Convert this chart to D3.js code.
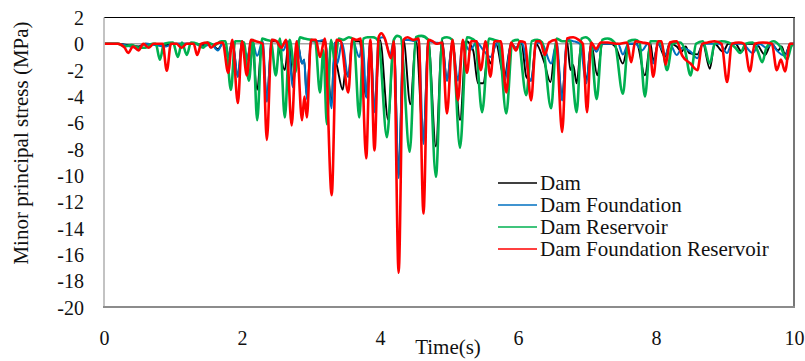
<!DOCTYPE html>
<html>
<head>
<meta charset="utf-8">
<script src="https://cdn.jsdelivr.net/npm/d3@7"></script>
<style>
  html, body { margin: 0; padding: 0; background: #fff; }
  svg { display: block; }
  text { font-family: "Liberation Serif", "Times New Roman", serif; fill: #111; }
</style>
</head>
<body>
<svg id="chart" width="805" height="361"></svg>
<script>
// Time axis and stress axis tick labels
const xTicks = [0, 2, 4, 6, 8, 10];
const yTicks = [2, 0, -2, -4, -6, -8, -10, -12, -14, -16, -18, -20];
const yTickLabels = ["2", "0", "-2", "-4", "-6", "-8", "-10", "-12", "-14", "-16", "-18", "-20"];

const seriesNames = ["Dam", "Dam Foundation", "Dam Reservoir", "Dam Foundation Reservoir"];
const seriesColors = ["#000000", "#0070C0", "#00B050", "#FF0000"];

// Minor principal stress histories, [time (s), stress (MPa)]
const dam = [
  [0,0],[0.2,0],[0.35,-0.1],[0.5,-0.2],[0.6,0],[0.9,-0.1],[1.0,0],[1.3,0],[1.45,-0.1],[1.55,0],
  [1.65,-0.4],[1.72,0],[1.8,-1.0],[1.86,0.2],[1.94,-2.5],[2.0,0.2],[2.07,-1.2],[2.14,0.2],
  [2.22,-3.5],[2.29,0.2],[2.36,-4.2],[2.43,0.2],[2.5,0.2],[2.62,-2.0],[2.68,0.2],[2.74,-3.2],
  [2.8,0.2],[2.87,-1.5],[2.9,-1.2],[2.94,-4.0],[3.0,0.2],[3.1,0.2],[3.2,0.2],[3.3,-4.5],
  [3.33,-1.2],[3.36,-1.4],[3.46,-3.5],[3.5,-2.0],[3.54,-2.5],[3.6,0.2],[3.7,0.2],[3.8,-4.0],
  [3.86,0.2],[3.92,-5.0],[4.0,0.3],[4.12,-5.8],[4.2,0.2],[4.27,-10.0],[4.34,0.3],[4.44,-4.6],
  [4.52,0.3],[4.63,-7.3],[4.7,0.2],[4.81,-7.8],[4.9,0.3],[4.97,-2.8],[5.05,0.1],[5.16,-5.8],
  [5.25,0.2],[5.35,-0.5],[5.42,-3.0],[5.5,-3.0],[5.56,-1.0],[5.6,-1.5],[5.68,0],[5.8,-2.6],
  [5.9,0],[5.97,-0.3],[6.05,0.1],[6.12,-2.5],[6.19,-2.8],[6.26,0],[6.38,-1.4],[6.47,-2.9],
  [6.55,0],[6.64,-4.0],[6.71,0.2],[6.76,-2.0],[6.8,-1.6],[6.85,-3.0],[6.92,0.1],[6.99,-2.8],
  [7.06,0],[7.15,-2.4],[7.22,0],[7.35,0],[7.42,-0.3],[7.52,-1.5],[7.6,0],[7.72,0],[7.84,-2.4],
  [7.92,0],[7.96,-1.3],[8.03,0],[8.13,-1.0],[8.2,0],[8.3,-0.2],[8.37,-0.6],[8.43,-0.2],
  [8.48,-0.7],[8.6,-0.8],[8.68,0],[8.78,-1.9],[8.85,0],[8.97,-0.6],[9.05,0],[9.15,0],
  [9.24,-0.6],[9.32,0],[9.45,0],[9.58,-0.85],[9.67,0],[9.77,-0.5],[9.82,-0.2],[9.87,-0.8],
  [9.95,0],[10,0]
];

const damFoundation = [
  [0,0],[0.2,0],[0.3,-0.1],[0.5,-0.3],[0.6,0],[0.9,-0.2],[1.0,0],[1.3,0],[1.45,-0.2],[1.55,0],
  [1.65,-0.5],[1.72,0],[1.8,-1.0],[1.86,0.2],[1.94,-2.5],[2.0,0.2],[2.07,-1.2],[2.14,0.3],
  [2.22,-0.9],[2.3,0.2],[2.36,-4.4],[2.43,0.3],[2.5,0.2],[2.6,-0.5],[2.66,0.2],[2.74,-3.3],
  [2.8,0.2],[2.87,-1.5],[2.9,-1.2],[2.94,-4.2],[3.0,0.2],[3.1,0.2],[3.2,0.3],[3.3,-4.9],
  [3.34,0.1],[3.38,-1.5],[3.45,0.1],[3.54,-2.5],[3.6,0.3],[3.7,-1.0],[3.75,0.2],[3.8,-4.1],
  [3.86,0.2],[3.92,-5.2],[3.98,0.4],[4.05,0.5],[4.15,-0.8],[4.2,0.2],[4.27,-10.2],[4.34,0.3],
  [4.42,0.3],[4.5,0.2],[4.56,0.3],[4.63,-7.6],[4.7,0.2],[4.8,0.1],[4.9,0],[4.97,-2.8],
  [5.05,0.1],[5.13,-2.8],[5.2,0.2],[5.3,-0.5],[5.4,0.1],[5.5,-0.5],[5.6,-1.0],[5.7,0.1],
  [5.81,-2.8],[5.9,0],[5.97,-0.3],[6.05,0.1],[6.19,-2.8],[6.27,0.1],[6.35,0],[6.48,-1.5],
  [6.56,0.1],[6.64,-4.3],[6.71,0.3],[6.8,0.2],[6.9,0],[6.99,-3.0],[7.06,0],[7.14,-0.6],
  [7.2,0],[7.35,0],[7.45,0],[7.52,-0.8],[7.6,0],[7.7,0],[7.8,-0.5],[7.88,0],[7.96,-1.5],
  [8.03,0],[8.14,-0.8],[8.2,0],[8.3,-0.85],[8.38,-0.3],[8.5,-0.6],[8.6,-1.1],[8.68,0],
  [8.8,0],[8.92,0],[9.03,-0.7],[9.1,0],[9.25,0],[9.4,-0.7],[9.5,0],[9.6,-0.3],[9.68,0],
  [9.75,-0.5],[9.87,-0.9],[9.95,0],[10,0]
];

const damReservoir = [
  [0,0],[0.2,0],[0.3,-0.2],[0.4,-0.1],[0.5,-0.3],[0.6,-0.3],[0.7,0],[0.75,0],[0.81,-1.2],
  [0.87,0],[1.0,0.1],[1.07,-1.0],[1.13,0.1],[1.2,-0.85],[1.26,0.1],[1.35,0],[1.44,-0.3],
  [1.5,0.1],[1.6,-0.1],[1.7,0.2],[1.76,0.2],[1.84,-3.5],[1.9,0.2],[1.97,0.2],[2.03,0.1],
  [2.1,-2.8],[2.16,0.3],[2.22,-5.8],[2.29,0.4],[2.35,0.3],[2.42,0.2],[2.49,-2.4],[2.55,0.4],
  [2.62,-5.6],[2.69,0.3],[2.77,-2.2],[2.84,0.5],[2.9,0.4],[3.0,0.3],[3.06,0.2],[3.13,-3.7],
  [3.18,-0.5],[3.23,-6.1],[3.29,0.3],[3.35,-1.4],[3.4,0.4],[3.47,0.3],[3.55,0.5],[3.62,0.3],
  [3.7,-5.6],[3.76,0.4],[3.82,0.5],[3.9,0.5],[3.98,0.2],[4.1,-7.1],[4.2,0.3],[4.25,0.6],
  [4.3,0.5],[4.43,-8.2],[4.52,0.5],[4.6,0.6],[4.7,0.3],[4.81,-10.1],[4.9,0.4],[4.97,0.5],
  [5.05,0.3],[5.16,-7.9],[5.26,0.5],[5.33,0.4],[5.38,0.2],[5.48,-5.2],[5.58,0.4],[5.65,0.3],
  [5.72,0.2],[5.83,-5.3],[5.92,0.2],[6.0,0.3],[6.12,-3.9],[6.2,0.2],[6.28,0.3],[6.35,0.1],
  [6.48,-4.9],[6.56,0.4],[6.64,0.2],[6.76,0.2],[6.8,-3.0],[6.85,-5.2],[6.92,0.4],[6.98,0.5],
  [7.05,0.2],[7.14,-4.2],[7.22,0.3],[7.3,0.4],[7.4,0.1],[7.52,-3.8],[7.6,0.2],[7.7,0.3],
  [7.76,0.1],[7.84,-4.0],[7.92,0.2],[8.0,0.2],[8.08,0],[8.16,-2.0],[8.24,0],[8.35,0.1],
  [8.42,-0.5],[8.5,-2.4],[8.58,0],[8.68,0.2],[8.78,-1.5],[8.85,0],[8.95,0.2],[9.05,0.1],
  [9.15,-0.3],[9.22,-0.7],[9.3,0],[9.4,0.1],[9.47,-0.5],[9.54,-1.4],[9.6,-0.3],[9.7,0.2],
  [9.8,-0.2],[9.9,-1.2],[9.96,-0.2],[10,0]
];

const damFoundationReservoir = [
  [0,0],[0.2,0],[0.3,-0.3],[0.35,-0.7],[0.42,-0.2],[0.5,-0.5],[0.57,0],[0.65,-0.3],[0.72,0],
  [0.85,0],[0.91,-2.05],[0.97,0],[1.05,0],[1.12,-0.3],[1.2,0],[1.3,0],[1.35,-0.85],[1.41,0],
  [1.5,0.1],[1.55,-0.3],[1.62,0],[1.72,0.1],[1.8,-2.2],[1.86,0.3],[1.94,-4.5],[2.0,0.2],
  [2.07,-2.4],[2.13,0.3],[2.2,0.2],[2.3,0],[2.36,-7.3],[2.43,0.3],[2.5,0.2],[2.57,-0.3],
  [2.64,0.3],[2.72,-6.2],[2.79,0.2],[2.87,-5.8],[2.905,-4.0],[2.94,-5.6],[3.0,0.3],[3.07,0.3],
  [3.13,-1.0],[3.2,0.4],[3.3,-11.5],[3.37,0.3],[3.43,0.2],[3.54,-3.7],[3.6,0.4],[3.66,0.3],
  [3.72,0.4],[3.8,-8.7],[3.86,0.3],[3.92,-8.1],[3.98,0.5],[4.02,0.8],[4.07,0.4],[4.16,-1.1],
  [4.2,0.2],[4.27,-17.4],[4.34,0.3],[4.4,0.5],[4.48,0.3],[4.56,0.4],[4.63,-12.9],[4.7,0.3],
  [4.76,0.2],[4.82,0],[4.9,0.1],[4.97,-5.3],[5.05,0.3],[5.13,-4.3],[5.2,0.3],[5.26,-2.2],
  [5.32,0.2],[5.4,0.2],[5.46,-2.0],[5.53,0.2],[5.6,-2.5],[5.66,0.2],[5.75,0.2],[5.83,-3.7],
  [5.9,0.1],[5.97,-0.5],[6.03,0.2],[6.1,0.1],[6.19,-4.3],[6.26,0.2],[6.32,0.2],[6.39,-0.85],
  [6.45,0.1],[6.55,0.3],[6.64,-6.7],[6.71,0.4],[6.8,0.5],[6.88,0.3],[6.94,0],[7.0,-5.2],
  [7.06,0.1],[7.13,-0.4],[7.2,0.1],[7.3,0.1],[7.45,0],[7.58,0.1],[7.64,-1.4],[7.7,0.2],
  [7.8,0.1],[7.9,0],[7.96,-2.5],[8.03,0.2],[8.08,0.2],[8.14,-1.6],[8.2,0.1],[8.3,0.2],
  [8.38,-0.9],[8.5,-1.5],[8.6,-2.0],[8.67,0],[8.75,0.1],[8.85,0.2],[8.95,0],[9.03,-2.9],
  [9.1,0],[9.2,0.1],[9.28,0],[9.36,-2.1],[9.43,0],[9.55,0.1],[9.68,0],[9.75,-2.0],
  [9.81,-1.2],[9.87,-2.1],[9.94,0],[10,0]
];

const allSeries = [dam, damFoundation, damReservoir, damFoundationReservoir];
const lineWidths = [1.9, 2.1, 2.6, 2.6];

const svg = d3.select("#chart");
const plot = { left: 104, right: 794, top: 17.5, bottom: 307 };

const x = d3.scaleLinear().domain([0, 10]).range([plot.left, plot.right]);
const y = d3.scaleLinear().domain([-20, 2]).range([plot.bottom, plot.top]);

// zero reference line
svg.append("line")
  .attr("x1", x(0)).attr("x2", x(10))
  .attr("y1", y(0)).attr("y2", y(0))
  .attr("stroke", "#a6a6a6").attr("stroke-width", 1.5);

// series
const line = d3.line()
  .x(d => x(d[0]))
  .y(d => y(d[1]))
  .curve(d3.curveMonotoneX);

svg.append("clipPath").attr("id", "plotClip")
  .append("rect")
  .attr("x", plot.left).attr("y", plot.top)
  .attr("width", plot.right - plot.left).attr("height", plot.bottom - plot.top);

const lines = svg.append("g").attr("clip-path", "url(#plotClip)");
allSeries.forEach((s, i) => {
  lines.append("path")
    .datum(s)
    .attr("fill", "none")
    .attr("stroke", seriesColors[i])
    .attr("stroke-width", lineWidths[i])
    .attr("stroke-linejoin", "round")
    .attr("d", line);
});

// frame
svg.append("line").attr("x1", plot.left).attr("x2", plot.right + 1)
  .attr("y1", plot.top).attr("y2", plot.top)
  .attr("stroke", "#000").attr("stroke-width", 1.2);
svg.append("line").attr("x1", plot.right).attr("x2", plot.right)
  .attr("y1", plot.top).attr("y2", plot.bottom)
  .attr("stroke", "#555").attr("stroke-width", 1.6);
svg.append("line").attr("x1", plot.left).attr("x2", plot.left)
  .attr("y1", plot.top).attr("y2", plot.bottom)
  .attr("stroke", "#bdbdbd").attr("stroke-width", 1.8);
svg.append("line").attr("x1", plot.left - 1).attr("x2", plot.right + 1)
  .attr("y1", plot.bottom).attr("y2", plot.bottom)
  .attr("stroke", "#8c8c8c").attr("stroke-width", 1.8);

// axes (labels only)
const yAxis = d3.axisLeft(y)
  .tickValues(yTicks)
  .tickSize(0)
  .tickPadding(0)
  .tickFormat((d, i) => yTickLabels[i]);
const gy = svg.append("g").attr("transform", `translate(${plot.left - 20},0)`).call(yAxis);
gy.select(".domain").remove();
gy.selectAll("text")
  .attr("font-family", "Liberation Serif, serif")
  .attr("font-size", 20)
  .attr("fill", "#111")
  .attr("dy", "0.35em");

const xAxis = d3.axisBottom(x)
  .tickValues(xTicks)
  .tickSize(0)
  .tickPadding(0)
  .tickFormat(d3.format("d"));
const gx = svg.append("g").attr("transform", `translate(0,${plot.bottom + 24})`).call(xAxis);
gx.select(".domain").remove();
gx.selectAll("text")
  .attr("font-family", "Liberation Serif, serif")
  .attr("font-size", 20)
  .attr("fill", "#111");

// axis titles
svg.append("text")
  .attr("x", 448).attr("y", 354)
  .attr("text-anchor", "middle")
  .attr("font-size", 21)
  .text("Time(s)");

svg.append("text")
  .attr("transform", "translate(28,143) rotate(-90)")
  .attr("text-anchor", "middle")
  .attr("font-size", 21)
  .text("Minor principal stress (MPa)");

// legend
const legend = svg.append("g").attr("transform", "translate(498,183)");
seriesNames.forEach((name, i) => {
  const row = legend.append("g").attr("transform", `translate(0,${i * 22})`);
  row.append("line")
    .attr("x1", 0).attr("x2", 39).attr("y1", 0).attr("y2", 0)
    .attr("stroke", seriesColors[i]).attr("stroke-width", 1.6);
  row.append("text")
    .attr("x", 42).attr("y", 0).attr("dy", "0.33em")
    .attr("font-size", 21)
    .text(name);
});
</script>
</body>
</html>
